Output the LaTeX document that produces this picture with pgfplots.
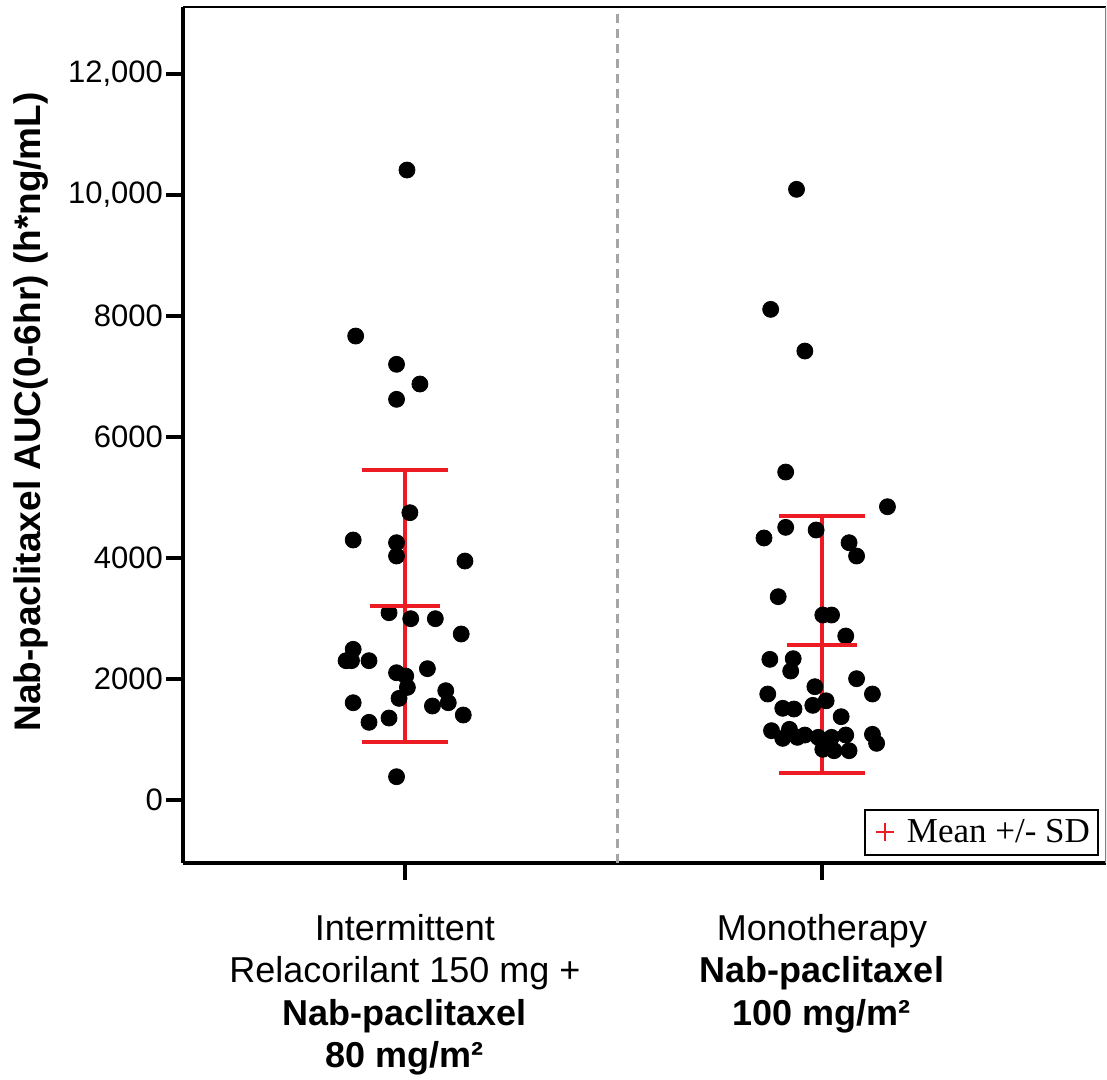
\documentclass[border=0pt]{standalone}
\usepackage{pgfplots}
\pgfplotsset{compat=1.18}
\usepackage{fontspec}
\setmainfont{Liberation Sans}
\newfontfamily\legendfont{Liberation Serif}
\definecolor{barred}{RGB}{237,28,36}
\definecolor{dashgray}{RGB}{165,165,165}
\begin{document}
\begin{tikzpicture}
\useasboundingbox (-91.5pt,-108.5pt) rectangle (462pt,431.5pt);
\begin{axis}[
  scale only axis, width=461.5pt, height=428pt,
  xmin=0.468, xmax=2.681, ymin=-1041, ymax=13108,
  axis lines=left, axis line style={-, line width=2pt, black},
  tick align=outside, major tick length=8.5pt,
  tick style={line width=2pt, black},
  xtick={1,2},
  xticklabels={{Intermittent\\Relacorilant 150 mg +\\\textbf{Nab-paclitaxel}\\\textbf{80 mg/m²}},
               {Monotherapy\\\textbf{Nab-paclitaxel}\\\textbf{100 mg/m²}}},
  xticklabel style={align=center, font=\fontsize{18}{21.25}\selectfont, anchor=north, yshift=-13.5pt},
  ytick={0,2000,4000,6000,8000,10000,12000},
  yticklabels={0,2000,4000,6000,8000,{10,000},{12,000}},
  yticklabel style={font=\fontsize{15.5}{18}\selectfont, xshift=2pt},
  ylabel={\textbf{Nab-paclitaxel AUC(0-6hr) (h*ng/mL)}},
  ylabel style={font=\fontsize{18.5}{22}\selectfont, at={(ticklabel cs:0.527,3pt)}},
  legend style={at={(0.9924,0.0082)}, anchor=south east, draw=black, line width=1pt,
    font=\legendfont\fontsize{17.5}{20}\selectfont, inner xsep=2pt, inner ysep=2.75pt},
  legend cell align=left,
]
\addplot[dashgray, line width=1.5pt, dash pattern=on 4.5pt off 3pt, forget plot]
  coordinates {(1.51,-1041) (1.51,13108)};
% group 1
\addplot[only marks, mark=*, mark size=4pt, black, forget plot] coordinates {
(1.005,10413) (0.882,7669) (0.980,7202) (1.036,6876) (0.980,6623)
(1.012,4749) (0.876,4298) (0.980,4253) (0.980,4033) (1.144,3950)
(0.962,3096) (1.014,2997) (1.073,2997) (1.135,2744) (0.876,2491)
(0.859,2303) (0.872,2303) (0.914,2303) (0.980,2104) (1.002,2050)
(1.054,2171) (1.006,1862) (0.986,1680) (1.098,1807) (1.104,1608)
(1.066,1554) (0.876,1608) (1.140,1405) (0.914,1284) (0.962,1355)
(0.980,385)
};
% group 2
\addplot[only marks, mark=*, mark size=4pt, black, forget plot] coordinates {
(1.939,10094) (1.877,8110) (1.959,7421) (1.913,5421) (2.157,4848)
(1.913,4507) (1.986,4463) (1.861,4331) (2.065,4253) (2.083,4033)
(1.895,3361) (2.002,3058) (2.023,3058) (2.057,2711) (1.875,2325)
(1.931,2336) (1.925,2132) (2.083,2005) (1.983,1873) (1.870,1752)
(2.121,1752) (2.010,1640) (1.978,1565) (1.906,1516) (1.933,1504)
(2.046,1377) (1.879,1146) (1.922,1168) (1.906,1019) (1.941,1036)
(1.959,1074) (1.991,1036) (2.023,1036) (2.057,1074) (2.121,1086)
(2.131,937) (2.002,838) (2.029,815) (2.065,815)
};
% mean +/- SD
\addplot[barred, only marks, mark=-, mark size=17.5pt, mark options={line width=2pt}, forget plot,
  error bars/.cd, y dir=both, y explicit,
  error bar style={line width=2pt, barred},
  error mark options={barred, line width=2pt, mark size=21.5pt, rotate=90}]
  coordinates {(1,3205) +- (0,2245) (2,2570) +- (0,2120)};
\addlegendimage{legend image code/.code={%
  \path[draw=none, fill=none] (0pt,-1pt) rectangle (17pt,1pt);
  \path[draw=none] plot[mark=+, mark size=4.5pt, mark options={draw=barred, line width=1pt}] coordinates {(8pt,0pt)};}}
\addlegendentry{Mean +/- SD}
\draw[line width=1.5pt, black] (rel axis cs:0,1) -- (rel axis cs:1,1);
\draw[line width=0.6pt, gray] (rel axis cs:1,0) -- (rel axis cs:1,1);
\end{axis}
\end{tikzpicture}
\end{document}
